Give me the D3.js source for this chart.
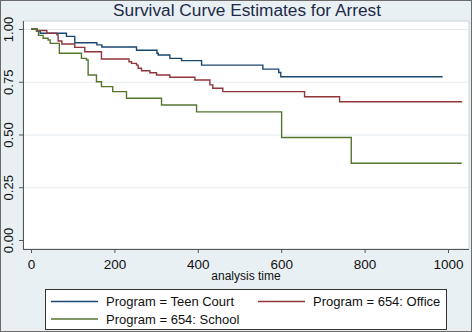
<!DOCTYPE html>
<html>
<head>
<meta charset="utf-8">
<script src="https://cdn.jsdelivr.net/npm/d3@7"></script>
<style>
  body { margin: 0; background: #ffffff; }
  svg { display: block; font-family: "Liberation Sans", Arial, sans-serif; }
</style>
</head>
<body>
<svg width="472" height="332"></svg>
<script>
/* ===============================
   Data
   =============================== */
let programs = ["Program = Teen Court", "Program = 654: Office", "Program = 654: School"];
let programColors = ["#1a476f", "#90353b", "#55752f"];

let teenTime = [0, 13, 22, 85, 105, 158, 170, 253, 302, 305, 333, 361, 409, 556, 594, 599, 987];
let teenSurv = [1, 0.99, 0.98, 0.965, 0.935, 0.925, 0.915, 0.899, 0.885, 0.877, 0.861, 0.85, 0.829, 0.81, 0.794, 0.774, 0.774];

let officeTime = [0, 15, 38, 62, 65, 74, 105, 129, 169, 235, 241, 253, 257, 265, 285, 301, 333, 393, 429, 436, 460, 656, 740, 1034];
let officeSurv = [1, 0.993, 0.98, 0.972, 0.943, 0.929, 0.913, 0.892, 0.858, 0.845, 0.837, 0.829, 0.814, 0.802, 0.793, 0.782, 0.771, 0.758, 0.735, 0.719, 0.703, 0.679, 0.655, 0.655];

let schoolTime = [0, 14, 18, 29, 41, 46, 68, 121, 133, 137, 157, 169, 196, 229, 313, 397, 601, 768, 1033];
let schoolSurv = [1, 0.99, 0.97, 0.956, 0.948, 0.932, 0.885, 0.861, 0.853, 0.782, 0.75, 0.727, 0.703, 0.672, 0.64, 0.607, 0.486, 0.364, 0.364];

let xTicks = [0, 200, 400, 600, 800, 1000];
let yTicks = [0, 0.25, 0.5, 0.75, 1];

/* ===============================
   Select SVG + background
   =============================== */
let svg = d3.select("svg");

svg.append("rect")
    .attr("x", 0.5).attr("y", 0.5)
    .attr("width", 471).attr("height", 331)
    .attr("fill", "#e9f0f3")
    .attr("stroke", "#6b6b6b");

// plot region
let plotLeft = 23, plotRight = 469, plotTop = 21, plotBottom = 249;

svg.append("rect")
    .attr("x", plotLeft).attr("y", plotTop)
    .attr("width", plotRight - plotLeft).attr("height", plotBottom - plotTop)
    .attr("fill", "white")
    .attr("stroke", "#c9d2d6");

/* ===============================
   Scales
   =============================== */
let x = d3.scaleLinear().domain([0, 1000]).range([31, 448]);
let y = d3.scaleLinear().domain([0, 1]).range([240, 29]);

/* ===============================
   Grid lines
   =============================== */
svg.append("g")
    .selectAll("line")
    .data(yTicks.filter(d => d > 0))
    .join("line")
    .attr("x1", plotLeft + 1)
    .attr("x2", plotRight - 1)
    .attr("y1", d => y(d) + 0.5)
    .attr("y2", d => y(d) + 0.5)
    .attr("stroke", "#e2eaee")
    .attr("stroke-width", 1);

/* ===============================
   Axes
   =============================== */
let yAxis = svg.append("g")
    .attr("transform", "translate(" + plotLeft + ",0)")
    .call(d3.axisLeft(y).tickValues(yTicks).tickSize(4).tickFormat(d3.format(".2f")));

yAxis.select(".domain")
    .attr("d", "M0.5," + plotTop + "V" + plotBottom)
    .attr("stroke", "#555");
yAxis.selectAll(".tick line").attr("stroke", "#555");
yAxis.selectAll(".tick text")
    .attr("font-size", 13)
    .attr("fill", "#111")
    .attr("text-anchor", "middle")
    .attr("x", null).attr("dy", null)
    .attr("transform", "translate(-10,0) rotate(-90)");

let xAxis = svg.append("g")
    .attr("transform", "translate(0," + plotBottom + ")")
    .call(d3.axisBottom(x).tickValues(xTicks).tickSize(4).tickFormat(d3.format("d")));

xAxis.select(".domain")
    .attr("d", "M" + plotLeft + ",0.5H" + plotRight)
    .attr("stroke", "#555");
xAxis.selectAll(".tick line").attr("stroke", "#555");
xAxis.selectAll(".tick text")
    .attr("font-size", 13.5)
    .attr("fill", "#111")
    .attr("y", 20).attr("dy", null);

svg.append("text")
    .attr("x", 246)
    .attr("y", 280)
    .attr("text-anchor", "middle")
    .attr("font-size", 12)
    .attr("fill", "#111")
    .text("analysis time");

/* ===============================
   Title
   =============================== */
svg.append("text")
    .attr("x", 247)
    .attr("y", 15.5)
    .attr("text-anchor", "middle")
    .attr("font-size", 17.3)
    .attr("fill", "#1e2a48")
    .text("Survival Curve Estimates for Arrest");

/* ===============================
   Survival step curves
   =============================== */
let stepLine = d3.line()
    .x(d => x(d[0]))
    .y(d => y(d[1]))
    .curve(d3.curveStepAfter);

let curves = [
    d3.zip(teenTime, teenSurv),
    d3.zip(officeTime, officeSurv),
    d3.zip(schoolTime, schoolSurv)
];

svg.append("g")
    .selectAll("path")
    .data(curves)
    .join("path")
    .attr("d", stepLine)
    .attr("fill", "none")
    .attr("stroke", (d, i) => programColors[i])
    .attr("stroke-width", 1.4);

/* ===============================
   Legend
   =============================== */
svg.append("rect")
    .attr("x", 45.5).attr("y", 289.5)
    .attr("width", 401).attr("height", 40)
    .attr("fill", "white")
    .attr("stroke", "#333");

let legendPos = [[51, 301.5], [258, 301.5], [51, 319]];

let legend = svg.append("g")
    .selectAll("g")
    .data(programs)
    .join("g")
    .attr("transform", (d, i) => "translate(" + legendPos[i][0] + "," + legendPos[i][1] + ")");

legend.append("line")
    .attr("x1", 0).attr("x2", 47)
    .attr("y1", 0).attr("y2", 0)
    .attr("stroke", (d, i) => programColors[i])
    .attr("stroke-width", 1.4);

legend.append("text")
    .attr("x", 55)
    .attr("y", 4.5)
    .attr("font-size", 13)
    .attr("fill", "#111")
    .text(d => d);
</script>
</body>
</html>
